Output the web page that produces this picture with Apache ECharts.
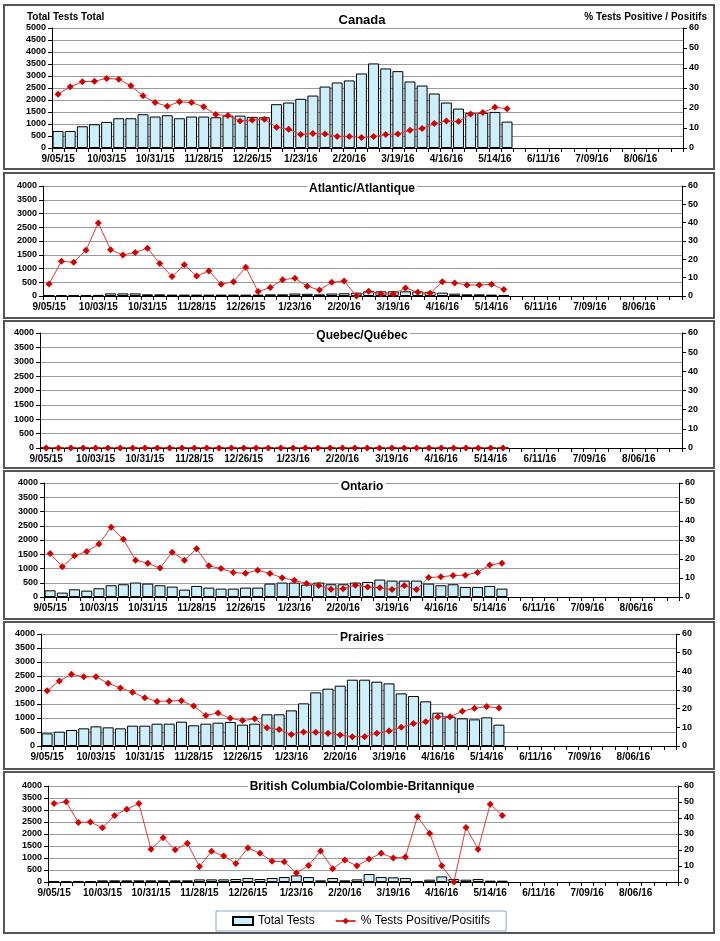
<!DOCTYPE html>
<html>
<head>
<meta charset="utf-8">
<script src="https://cdn.jsdelivr.net/npm/echarts@6/dist/echarts.min.js"></script>
<style>
html,body{margin:0;padding:0;background:#fff;}
#chart{width:720px;height:941px;}
</style>
</head>
<body>
<div id="chart"></div>
<script>
// ---- Data ----
var weeks = ['9/05/15','9/12/15','9/19/15','9/26/15','10/03/15','10/10/15','10/17/15','10/24/15','10/31/15','11/07/15','11/14/15','11/21/15','11/28/15','12/05/15','12/12/15','12/19/15','12/26/15','1/02/16','1/09/16','1/16/16','1/23/16','1/30/16','2/06/16','2/13/16','2/20/16','2/27/16','3/05/16','3/12/16','3/19/16','3/26/16','4/02/16','4/09/16','4/16/16','4/23/16','4/30/16','5/07/16','5/14/16','5/21/16','5/28/16','6/04/16','6/11/16','6/18/16','6/25/16','7/02/16','7/09/16','7/16/16','7/23/16','7/30/16','8/06/16','8/13/16','8/20/16','8/27/16'];

var regionNames = ['Canada','Atlantic/Atlantique','Quebec/Québec','Ontario','Prairies','British Columbia/Colombie-Britannique'];

var canadaTests = [710,710,905,990,1086,1240,1240,1407,1310,1365,1240,1310,1310,1280,1350,1350,1295,1280,1825,1895,2050,2185,2560,2730,2815,3105,3524,3315,3203,2772,2604,2270,1894,1643,1462,1462,1504,1100];
var canadaPct = [26.9,30.6,33.1,33.4,34.8,34.4,31.1,26.1,22.7,20.9,23.1,22.7,20.6,16.7,16.2,13.5,14.0,14.4,10.4,9.4,6.7,7.2,7.0,5.8,5.8,5.2,5.7,6.7,7.0,8.9,9.7,12.2,13.5,13.2,17.0,17.7,20.4,19.6];

var atlanticTests = [20,35,30,30,40,95,95,95,60,60,50,50,50,50,50,50,50,50,60,60,90,80,60,90,100,120,170,170,170,170,165,150,122,85,60,60,50,40];
var atlanticPct = [6.6,19.0,18.4,25.0,39.8,25.2,22.4,23.7,26.1,17.7,10.6,17.0,10.9,13.7,6.4,7.8,15.7,2.4,4.6,8.9,9.7,5.3,3.3,7.5,8.2,0,2.6,1.1,1.1,4.4,2.0,1.5,7.8,7.1,6.0,6.0,6.4,3.5];

var quebecTests = [0,0,0,0,0,0,0,0,0,0,0,0,0,0,0,0,0,0,0,0,0,0,0,0,0,0,0,0,0,0,0,0,0,0,0,0,0,0];
var quebecPct = [0,0,0,0,0,0,0,0,0,0,0,0,0,0,0,0,0,0,0,0,0,0,0,0,0,0,0,0,0,0,0,0,0,0,0,0,0,0];

var ontarioTests = [235,153,270,223,306,412,447,506,470,412,365,259,388,329,294,294,329,329,470,506,506,435,506,447,447,506,529,612,576,576,576,470,412,447,353,353,388,294];
var ontarioPct = [22.9,15.9,21.7,24.0,27.9,36.7,30.4,19.4,17.8,15.2,23.6,19.4,25.4,16.4,15.0,12.9,12.5,14.1,12.4,10.1,8.8,7.1,6.0,4.1,4.4,6.2,5.3,4.9,3.9,6.0,3.9,10.2,10.6,11.3,11.5,12.9,16.9,17.8];

var prairiesTests = [452,512,571,631,702,666,631,726,726,797,797,869,738,797,833,857,762,797,1131,1131,1273,1523,1916,2047,2154,2368,2368,2297,2237,1880,1785,1595,1190,1047,988,952,1023,762];
var prairiesPct = [29.6,34.8,38.4,37.1,37.1,33.6,31.1,28.8,25.9,23.9,24.1,24.3,21.4,16.4,17.7,14.8,13.6,14.6,9.8,8.8,6.1,7.5,7.3,6.8,5.9,5.0,5.0,6.8,8.0,10.0,12.0,13.0,15.7,15.7,18.6,20.2,21.1,20.4];

var bcTests = [30,30,30,30,69,69,69,69,69,69,69,69,110,110,110,124,165,124,165,207,276,207,69,165,69,110,331,207,193,165,30,97,234,124,97,124,55,55];
var bcPct = [49.0,50.1,37.2,37.5,33.9,41.6,45.5,49.0,20.5,27.7,20.1,24.2,9.7,19.2,16.3,11.6,21.3,18.0,13.0,12.6,5.6,10.3,19.4,8.3,13.7,10.1,14.3,18.0,15.0,15.7,40.8,30.4,10.1,0,34.1,20.5,48.6,41.6];

var leftMax = [5000,4000,4000,4000,4000,4000];
var rightMax = [60,60,60,60,60,60];
var testsData = [canadaTests, atlanticTests, quebecTests, ontarioTests, prairiesTests, bcTests];
var pctData = [canadaPct, atlanticPct, quebecPct, ontarioPct, prairiesPct, bcPct];

// ---- Layout ----
var FONT = 'Liberation Sans, Arial, sans-serif';
var grids = [
  {left:52, top:28, width:631, height:120},
  {left:43, top:186, width:639, height:110},
  {left:40, top:333, width:642, height:115},
  {left:44, top:483, width:635, height:114},
  {left:41, top:634, width:635, height:112},
  {left:48, top:786, width:630, height:96}
];
var titleY = [20, 189, 336, 487, 638, 787];
var frames = [[4,5,710,164],[4,173,710,145],[4,321,710,147],[4,471,710,148],[4,622,710,147],[4,772,710,161]];

function plain(v){ return String(v); }

var xAxes = [], yAxes = [], series = [], graphics = [];
for (var i = 0; i < 6; i++) {
  xAxes.push({
    type:'category', gridIndex:i, data:weeks, boundaryGap:true,
    axisLine:{lineStyle:{color:'#000', width:1}},
    axisTick:{show:true, interval:0, length:4, lineStyle:{color:'#000'}},
    axisLabel:{interval:3, color:'#000', fontFamily:FONT, fontWeight:'bold', fontSize:10, margin:6},
    splitLine:{show:false}
  });
  yAxes.push({
    type:'value', gridIndex:i, min:0, max:leftMax[i], interval:500,
    axisLine:{show:true, lineStyle:{color:'#000'}},
    axisTick:{show:true, length:4, lineStyle:{color:'#000'}},
    axisLabel:{color:'#000', fontFamily:FONT, fontWeight:'bold', fontSize:9, margin:6, formatter:plain},
    splitLine:{show:true, lineStyle:{color:'#9a9a9a', width:1}}
  });
  yAxes.push({
    type:'value', gridIndex:i, position:'right', min:0, max:rightMax[i], interval:10,
    axisLine:{show:true, lineStyle:{color:'#000'}},
    axisTick:{show:true, length:4, lineStyle:{color:'#000'}},
    axisLabel:{color:'#000', fontFamily:FONT, fontWeight:'bold', fontSize:9, margin:6, formatter:plain},
    splitLine:{show:false}
  });
  series.push({
    name:'Total Tests', type:'bar', xAxisIndex:i, yAxisIndex:2*i,
    data:testsData[i], barCategoryGap:'10%',
    itemStyle:{color:'#cdeefb', borderColor:'#000', borderWidth:1},
    animation:false, z:2
  });
  series.push({
    name:'% Tests Positive/Positifs', type:'line', xAxisIndex:i, yAxisIndex:2*i+1,
    data:pctData[i], symbol:'diamond', symbolSize:7,
    itemStyle:{color:'#d40000'}, lineStyle:{color:'#e03a3a', width:1},
    animation:false, z:3
  });
  graphics.push({type:'rect', shape:{x:frames[i][0], y:frames[i][1], width:frames[i][2], height:frames[i][3]},
    style:{fill:null, stroke:'#555', lineWidth:2}, silent:true});
  graphics.push({type:'text', x:362, y:titleY[i], z:100,
    style:{text:regionNames[i], fill:'#000', font:'bold ' + (i===0?13:12) + 'px ' + FONT, textAlign:'center', textVerticalAlign:'middle',
      backgroundColor:'#fff', padding:[1,2]}});
}
graphics.push({type:'text', x:27, y:17, style:{text:'Total Tests Total', fill:'#000', font:'bold 10px ' + FONT, textAlign:'left', textVerticalAlign:'middle'}});
graphics.push({type:'text', x:707, y:17, style:{text:'% Tests Positive / Positifs', fill:'#000', font:'bold 10px ' + FONT, textAlign:'right', textVerticalAlign:'middle'}});

var chart = echarts.init(document.getElementById('chart'), null, {renderer:'canvas'});
chart.setOption({
  animation:false,
  backgroundColor:'#fff',
  grid:grids,
  xAxis:xAxes,
  yAxis:yAxes,
  series:series,
  graphic:graphics,
  legend:{
    left:216, top:911, width:292,
    data:[{name:'Total Tests', icon:'rect'}, {name:'% Tests Positive/Positifs'}],
    itemWidth:20, itemHeight:8, itemGap:20,
    padding:[4,16], borderColor:'#86a9d2', borderWidth:1,
    textStyle:{color:'#000', fontFamily:FONT, fontSize:12}
  }
});
</script>
</body>
</html>
